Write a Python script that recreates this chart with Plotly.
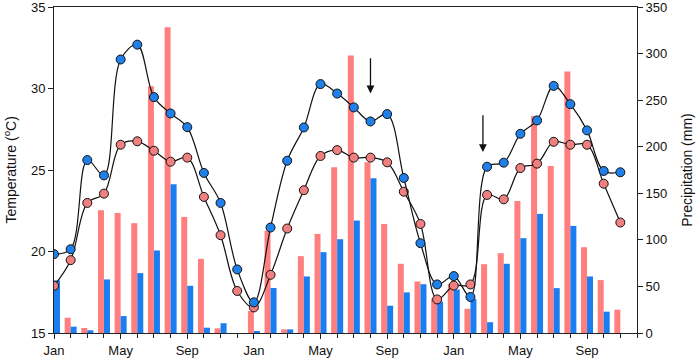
import plotly.graph_objects as go

months = list(range(35))
tick_vals = [0, 4, 8, 12, 16, 20, 24, 28, 32]
tick_text = ["Jan", "May", "Sep"] * 3

# Temperature (°C)
temp_blue = [19.84, 20.14, 25.61, 24.67, 31.78, 32.69, 29.47, 28.47, 27.63, 24.82, 22.98, 18.90,
             16.88, 21.47, 25.57, 27.61, 30.27, 29.69, 28.84, 27.98, 28.43, 24.51, 20.51, 17.98,
             18.49, 17.21, 25.20, 25.45, 27.22, 28.04, 30.16, 29.04, 27.43, 24.94, 24.86]
temp_pink = [17.90, 19.47, 22.98, 23.55, 26.55, 26.76, 26.18, 25.51, 25.76, 23.35, 21.00, 17.58,
             16.57, 18.57, 21.41, 23.76, 25.86, 26.22, 25.76, 25.76, 25.47, 23.67, 21.69, 17.06,
             17.91, 17.98, 23.47, 23.20, 25.12, 25.39, 26.73, 26.55, 26.55, 24.16, 21.78]

# Precipitation (mm)
prec_pink = [0, 16.4, 5.4, 131.8, 128.9, 117.9, 265.0, 328.2, 124.6, 79.6, 5.0, 0,
             23.6, 110.0, 3.9, 82.5, 106.4, 177.9, 297.9, 183.2, 117.1, 74.3, 55.3, 37.0,
             52.5, 26.0, 73.9, 85.7, 141.8, 232.9, 179.3, 280.7, 92.1, 56.8, 25.0]
prec_blue = [56.4, 6.8, 2.9, 57.5, 18.2, 64.3, 88.6, 159.6, 50.7, 5.7, 10.5, 0,
             1.2, 48.3, 3.9, 60.7, 86.8, 100.7, 120.7, 166.1, 29.3, 43.6, 52.4, 33.7,
             46.7, 36.4, 11.6, 74.3, 101.8, 127.9, 48.2, 115.0, 60.7, 22.9, 0]

# arrows: (month, tail temp, head temp)
arrows = [(19.0, 31.95, 29.7), (25.75, 28.45, 26.1)]

PINK_BAR = "#FF7F7F"
BLUE_BAR = "#1A7DF2"
PINK_MK = "#F08080"
BLUE_MK = "#1E80E8"
AX = "#222222"
FONT = "Arial, Liberation Sans, sans-serif"

fig = go.Figure()
fig.add_trace(go.Bar(x=months, y=prec_pink, width=0.36, offset=-0.36,
                     marker=dict(color=PINK_BAR, line=dict(width=0)), yaxis="y", showlegend=False))
fig.add_trace(go.Bar(x=months, y=prec_blue, width=0.36, offset=0,
                     marker=dict(color=BLUE_BAR, line=dict(width=0)), yaxis="y", showlegend=False))
fig.add_trace(go.Scatter(x=months, y=temp_pink, mode="lines+markers", yaxis="y2",
                         line=dict(color="#111111", width=1.2, shape="spline", smoothing=1),
                         marker=dict(size=9, color=PINK_MK, line=dict(color="#111111", width=1)),
                         showlegend=False))
fig.add_trace(go.Scatter(x=months, y=temp_blue, mode="lines+markers", yaxis="y2",
                         line=dict(color="#111111", width=1.2, shape="spline", smoothing=1),
                         marker=dict(size=9, color=BLUE_MK, line=dict(color="#111111", width=1)),
                         showlegend=False))

annotations = []
for xm, tail, head in arrows:
    annotations.append(dict(x=xm, y=head, ax=xm, ay=tail, xref="x", yref="y2",
                            axref="x", ayref="y2", text="", showarrow=True,
                            arrowhead=2, arrowsize=1.2, arrowwidth=1.3, arrowcolor="#111111"))
annotations.append(dict(x=-0.0746, y=0.5, xref="paper", yref="paper", xanchor="center",
                        yanchor="middle", textangle=-90, showarrow=False,
                        text="Temperature (<sup>o</sup>C)", font=dict(size=14)))

fig.update_layout(
    width=700, height=360,
    margin=dict(l=54, r=63, t=7, b=27, autoexpand=False),
    plot_bgcolor="white", paper_bgcolor="white",
    font=dict(family=FONT, size=13, color="#111111"),
    barmode="overlay",
    annotations=annotations,
    xaxis=dict(range=[0, 35], tickvals=tick_vals, ticktext=tick_text,
               ticks="outside", ticklen=5, tickwidth=1, tickcolor=AX,
               showline=True, linecolor=AX, linewidth=1, mirror=True,
               showgrid=False, zeroline=False, automargin=False, ticklabeloverflow="allow",
               minor=dict(dtick=1, tick0=0, ticks="outside", ticklen=4, tickcolor=AX, showgrid=False),
               tickfont=dict(size=13)),
    yaxis=dict(range=[0, 350], dtick=50, side="right",
               ticks="outside", ticklen=5, tickcolor=AX,
               showline=True, linecolor=AX, linewidth=1,
               showgrid=False, zeroline=False, automargin=False, ticklabeloverflow="allow",
               title=dict(text="Precipitation (mm)", font=dict(size=14)),
               tickfont=dict(size=13)),
    yaxis2=dict(range=[15, 35], dtick=5, side="left", overlaying="y",
                ticks="outside", ticklen=5, tickcolor=AX,
                showline=True, linecolor=AX, linewidth=1,
                showgrid=False, zeroline=False, automargin=False, ticklabeloverflow="allow",
                tickfont=dict(size=13)),
)

fig.write_html("out.html", config={"displayModeBar": False},
               post_script="document.body.style.margin='0';")
